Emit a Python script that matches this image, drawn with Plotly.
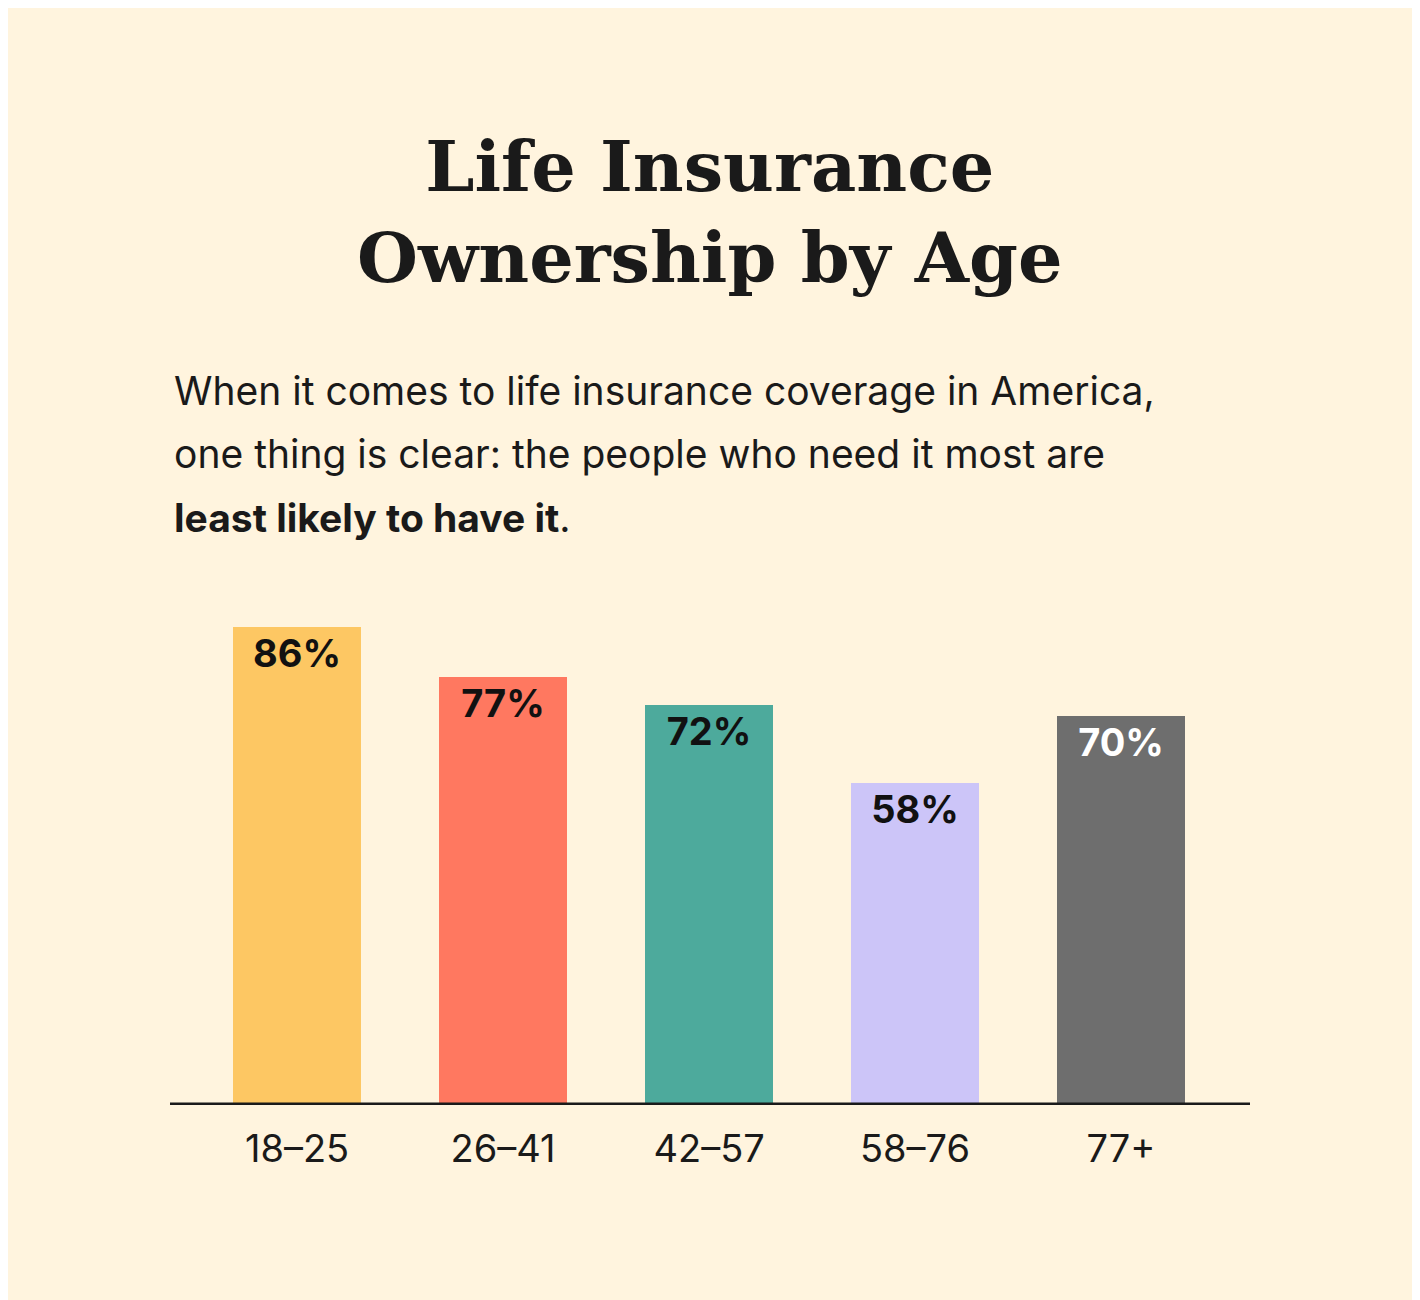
import plotly.graph_objects as go

# datos del gráfico
edades = ["18–25", "26–41", "42–57", "58–76", "77+"]
porcentajes = [86, 77, 72, 58, 70]
colores = ["#FDC763", "#FF7860", "#4DAA9C", "#CCC5F8", "#6E6E6E"]
color_texto = ["#111111", "#111111", "#111111", "#111111", "#FFFFFF"]
subtitulo = ["When it comes to life insurance coverage in America,",
             "one thing is clear: the people who need it most are",
             "<b>least likely to have it</b>."]

fig = go.Figure()

fig.add_trace(go.Bar(
    x=list(range(len(edades))),
    y=porcentajes,
    marker=dict(color=colores, line=dict(width=0)),
    width=0.621,
    text=[f"{p}%" for p in porcentajes],
    textposition="inside",
    insidetextanchor="end",
    textangle=0,
    textfont=dict(family="Inter", size=38, color=color_texto, weight="bold"),
))

# línea base
fig.add_shape(type="line", xref="x", yref="y", layer="above",
              x0=-0.617, x1=4.626, y0=0, y1=0, line=dict(color="#1a1a1a", width=5))

fig.update_layout(
    width=1420, height=1300,
    paper_bgcolor="#FFF4DE", plot_bgcolor="#FFF4DE",
    margin=dict(l=162, r=178, t=541, b=203),
    showlegend=False,
    bargap=0,
    xaxis=dict(range=[-0.617, 4.626], tickvals=list(range(len(edades))), ticktext=edades,
               showgrid=False, zeroline=False, showline=False, ticks="",
               ticklabelstandoff=18,
               tickfont=dict(family="Inter", size=38, color="#1a1a1a")),
    yaxis=dict(range=[0, 100], visible=False),
)

fig.add_annotation(xref="paper", yref="paper", x=0.5, y=1, yanchor="bottom", yshift=248,
                   text="Life Insurance<br>Ownership by Age", showarrow=False, align="center",
                   font=dict(family="DejaVu Serif", size=70, color="#1a1a1a", weight="bold"))
for i, linea in enumerate(subtitulo):
    fig.add_annotation(xref="paper", yref="paper", x=0, xshift=2, y=1, yanchor="middle",
                       yshift=159 - 63.5 * i, xanchor="left", align="left", showarrow=False,
                       text=linea, font=dict(family="Inter", size=39, color="#1a1a1a"))

fig.write_html("out.html")
